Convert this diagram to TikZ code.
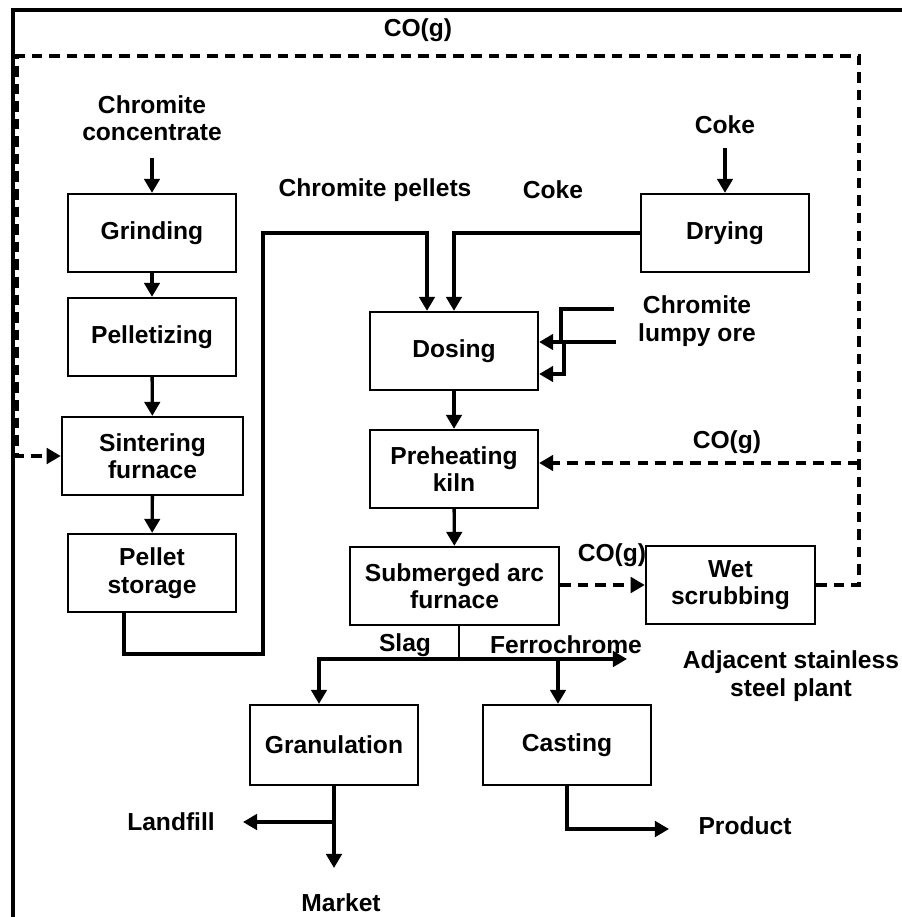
\documentclass[tikz,border=0pt]{standalone}
\usepackage{fontspec}
\setmainfont{Liberation Sans}
\usepackage{tikz}
\usetikzlibrary{arrows.meta}
\usetikzlibrary{positioning}

\begin{document}
\begin{tikzpicture}
[x=0.025cm,y=-0.025cm,
   every node/.style={font=\bfseries\fontsize{17.5}{19.5}\selectfont,align=center},
   unit/.style={draw,line width=1.6pt,minimum width=4.2cm,minimum height=1.95cm,inner sep=2pt},
   flow/.style={line width=2.4pt,-{Triangle[length=10pt,width=11pt]}},
   gas/.style={flow,dash pattern=on 7.5pt off 5pt},
   feed/.style={inner sep=1pt}
  ]
\useasboundingbox (0,0) rectangle (902,917);

% frame
\draw[line width=2.2pt] (13,917) -- (13,10) -- (902,10);

% pellet line
 \node[unit] (grind) at (152,233) {Grinding};
 \node[unit] (pell) at (152,337) {Pelletizing};
 \node[unit,minimum width=4.53cm] (sint) at (152.5,456) {Sintering\\furnace};
 \node[unit] (stor) at (152,573) {Pellet\\storage};

% furnace line
 \node[unit] (dry) at (725,233) {Drying};
 \node[unit] (dos) at (454,351) {Dosing};
 \node[unit] (preh) at (454,469) {Preheating\\kiln};
 \node[unit,minimum width=5.23cm] (saf) at (454.5,586) {Submerged arc\\furnace};
 \node[unit,minimum width=4.23cm] (wet) at (730.5,585) {Wet\\scrubbing};
 \node[unit,minimum height=2cm] (gran) at (334,745) {Granulation};
 \node[unit,minimum height=2cm] (cast) at (567,745) {Casting};

% feeds and products
 \node[feed] (conc) at (152,118) {Chromite\\concentrate};
 \node[feed] (coke1) at (725,125) {Coke};
 \node[feed] (pelt) at (375,190) {Chromite pellets};
 \node[feed] (coke2) at (553,190) {Coke};
 \node[feed] (lumpy) at (697,321) {Chromite\\lumpy ore};
 \node[feed] (cotop) at (418,30) {CO(g)};
 \node[feed] (cokiln) at (727,442) {CO(g)};
 \node[feed] (cosaf) at (612,555) {CO(g)};
 \node[feed] (slag) at (405,645) {Slag};
 \node[feed] (ferro) at (566,645) {Ferrochrome};
 \node[feed] (adj) at (791,676) {Adjacent stainless\\steel plant};
 \node[feed] (lfill) at (171,822) {Landfill};
 \node[feed] (mkt) at (341,903) {Market};
 \node[feed] (prod) at (745,826) {Product};

 \coordinate (ore1) at (614,309);
 \coordinate (ore2) at (616,342);
 \coordinate (j1) at (561,342);
 \coordinate (j2) at (564,374);
 \coordinate (p1) at (124,654);
 \coordinate (p2) at (263,233);
 \coordinate (p3) at (427,233);
 \coordinate (sp) at (459,659);
 \coordinate (sl) at (319,659);
 \coordinate (ca) at (558,659);
 \coordinate (fe) at (627,659);
 \coordinate (lf) at (243,822);
 \coordinate (mk) at (334,868);
 \coordinate (pr) at (669,829);
 \coordinate (gR) at (859,585);
 \coordinate (gT) at (859,56);
 \coordinate (gL) at (17,56);
 \coordinate (gK) at (859,463);

% solids
\draw[flow,shorten <=11pt] (conc) -- (grind);
\draw[flow] (grind) -- (pell);
\draw[flow] (pell) -- (sint);
\draw[flow] (sint) -- (stor);
\draw[flow] (p1 |- stor.south) -- (p1) -| (p2) -- (p3) -- (p3 |- dos.north);
\draw[flow,shorten <=9pt] (coke1) -- (dry);
\draw[flow] (dry.west) -| (dos.north);
\draw[flow] (ore1) -| (j1) -- (j1 -| dos.east);
\draw[flow] (ore2) -| (j2) -- (j2 -| dos.east);
\draw[flow] (dos) -- (preh);
\draw[flow] (preh) -- (saf);

% tapping
\draw[line width=1.2pt] (sp |- saf.south) -- (sp);
\draw[flow] (sp) -- (fe);
\draw[flow] (sp) -- (sl) -- (sl |- gran.north);
\draw[flow] (ca) -- (ca |- cast.north);
\draw[flow] (gran.south) -- (mk);
\draw[flow] (gran.south |- lf) -- (lf);
\draw[flow] (cast.south) |- (pr);

% off-gas
\draw[gas] (saf.east |- wet.west) -- (wet.west);
\draw[gas] (wet.east) -- (gR) -- (gT) -- (gL) |- (sint.west);
\draw[gas] (gK) -- (gK -| preh.east);

\end{tikzpicture}
\end{document}
